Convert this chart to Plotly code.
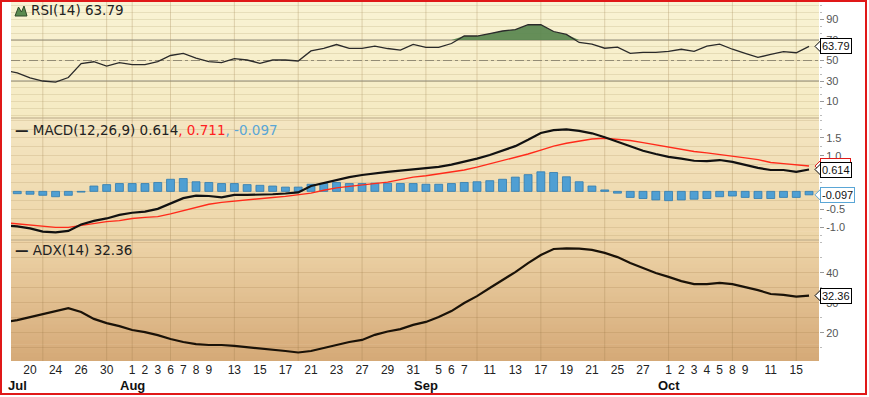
import plotly.graph_objects as go

# ---------------- data ----------------
dates = ["2012-07-18","2012-07-19","2012-07-20","2012-07-23","2012-07-24","2012-07-25","2012-07-26","2012-07-27","2012-07-30","2012-07-31",
         "2012-08-01","2012-08-02","2012-08-03","2012-08-06","2012-08-07","2012-08-08","2012-08-09","2012-08-10","2012-08-13","2012-08-14",
         "2012-08-15","2012-08-16","2012-08-17","2012-08-20","2012-08-21","2012-08-22","2012-08-23","2012-08-24","2012-08-27","2012-08-28",
         "2012-08-29","2012-08-30","2012-08-31","2012-09-04","2012-09-05","2012-09-06","2012-09-07","2012-09-10","2012-09-11","2012-09-12",
         "2012-09-13","2012-09-14","2012-09-17","2012-09-18","2012-09-19","2012-09-20","2012-09-21","2012-09-24","2012-09-25","2012-09-26",
         "2012-09-27","2012-09-28","2012-10-01","2012-10-02","2012-10-03","2012-10-04","2012-10-05","2012-10-08","2012-10-09","2012-10-10",
         "2012-10-11","2012-10-12","2012-10-15","2012-10-16"]

rsi = [40.5, 38.0, 33.0, 30.0, 29.0, 33.4, 47.0, 48.8, 44.6, 47.9,
       46.0, 46.0, 49.0, 54.9, 57.0, 52.4, 49.0, 48.0, 51.8, 50.5,
       47.3, 50.5, 50.5, 49.5, 59.3, 61.9, 65.6, 61.9, 61.9, 64.1,
       61.7, 60.2, 65.8, 62.9, 62.9, 66.6, 73.9, 73.9, 76.3, 78.8,
       80.2, 84.9, 84.9, 78.3, 75.4, 67.6, 66.0, 62.0, 63.0, 57.0,
       58.0, 58.0, 59.0, 61.0, 59.0, 64.0, 66.0, 61.0, 57.0, 53.0,
       56.0, 58.6, 57.6, 63.79]

macd = [-0.96, -0.98, -1.04, -1.13, -1.15, -1.11, -0.93, -0.83, -0.76, -0.66,
        -0.60, -0.57, -0.49, -0.33, -0.19, -0.12, -0.13, -0.17, -0.10, -0.10,
        -0.10, -0.08, -0.06, -0.03, 0.15, 0.24, 0.32, 0.40, 0.46, 0.51,
        0.55, 0.58, 0.62, 0.64, 0.69, 0.75, 0.83, 0.92, 1.02, 1.14,
        1.27, 1.45, 1.64, 1.72, 1.74, 1.70, 1.63, 1.52, 1.40, 1.27,
        1.14, 1.05, 0.97, 0.92, 0.86, 0.85, 0.88, 0.83, 0.74, 0.66,
        0.60, 0.60, 0.55, 0.614]

signal = [-0.88, -0.91, -0.95, -0.98, -1.01, -1.01, -0.95, -0.89, -0.85, -0.82,
          -0.76, -0.73, -0.71, -0.63, -0.54, -0.45, -0.36, -0.31, -0.27, -0.25,
          -0.21, -0.17, -0.14, -0.10, -0.05, 0.03, 0.10, 0.14, 0.18, 0.22,
          0.26, 0.33, 0.40, 0.44, 0.49, 0.54, 0.60, 0.68, 0.77, 0.85,
          0.94, 1.05, 1.16, 1.27, 1.35, 1.41, 1.47, 1.49, 1.47, 1.43,
          1.37, 1.31, 1.23, 1.18, 1.12, 1.08, 1.04, 0.99, 0.94, 0.89,
          0.81, 0.78, 0.74, 0.711]

hist = [-0.05, -0.065, -0.08, -0.11, -0.15, -0.11, -0.02, 0.15, 0.19, 0.22,
        0.22, 0.22, 0.25, 0.34, 0.36, 0.27, 0.25, 0.22, 0.22, 0.19,
        0.17, 0.15, 0.12, 0.12, 0.20, 0.22, 0.25, 0.22, 0.22, 0.23,
        0.23, 0.22, 0.22, 0.20, 0.20, 0.22, 0.25, 0.27, 0.30, 0.34,
        0.40, 0.47, 0.55, 0.53, 0.41, 0.27, 0.15, 0.04, -0.05, -0.17,
        -0.20, -0.24, -0.26, -0.24, -0.22, -0.20, -0.15, -0.13, -0.17, -0.20,
        -0.20, -0.17, -0.17, -0.097]

adx = [23.5, 24.2, 25.2, 26.2, 27.2, 28.2, 26.9, 24.6, 23.2, 22.2,
       20.9, 20.2, 19.2, 17.9, 16.9, 16.2, 15.9, 15.9, 15.6, 15.2,
       14.9, 14.4, 13.9, 13.4, 13.9, 14.9, 16.0, 16.9, 17.6, 19.3,
       20.4, 21.2, 22.6, 23.6, 25.2, 27.2, 29.9, 32.2, 34.9, 37.6,
       40.2, 43.2, 45.9, 47.9, 48.1, 48.0, 47.6, 46.6, 45.2, 43.2,
       41.6, 39.9, 38.6, 37.2, 36.2, 36.2, 36.6, 36.2, 35.2, 34.2,
       32.9, 32.6, 32.0, 32.36]

tick_dates = ["2012-07-20","2012-07-24","2012-07-26","2012-07-30",
              "2012-08-01","2012-08-02","2012-08-03","2012-08-06","2012-08-07","2012-08-08","2012-08-09",
              "2012-08-13","2012-08-15","2012-08-17","2012-08-21","2012-08-23","2012-08-27","2012-08-29","2012-08-31",
              "2012-09-05","2012-09-06","2012-09-07","2012-09-11","2012-09-13","2012-09-17","2012-09-19","2012-09-21",
              "2012-09-25","2012-09-27",
              "2012-10-01","2012-10-02","2012-10-03","2012-10-04","2012-10-05","2012-10-08","2012-10-09","2012-10-11","2012-10-15"]
tick_labels = ["20","24","26","30",
               "1","2","3","6","7","8","9",
               "13","15","17","21","23","27","29","31",
               "5","6","7","11","13","17","19","21",
               "25","27",
               "1","2","3","4","5","8","9","11","15"]

grid_dates = ["2012-07-23","2012-07-30","2012-08-01","2012-08-06","2012-08-13","2012-08-20","2012-08-27",
              "2012-09-04","2012-09-10","2012-09-17","2012-09-24","2012-10-01","2012-10-08","2012-10-15"]

month_labels = ["Jul", "Aug", "Sep", "Oct"]
month_dates = ["2012-07-19", "2012-08-01", "2012-09-04", "2012-10-01"]

rsi_ticks = [10, 30, 50, 70, 90]
rsi_ticktext = ["10", "30", "50", "70", "90"]
macd_ticks = [-1.0, -0.5, 0.0, 0.5, 1.0, 1.5]
macd_ticktext = ["-1.0", "-0.5", "0.0", "0.5", "1.0", "1.5"]
adx_ticks = [20, 30, 40]
adx_ticktext = ["20", "30", "40"]

OVERBOUGHT = 70
OVERSOLD = 30
MIDLINE = 50

# ---------------- layout geometry ----------------
W, H = 869, 397
ML, MR, MT, MB = 11, 50, 2, 36
PW = W - ML - MR
PH = H - MT - MB


def px(x):
    return (x - ML) / PW


def py(y):
    return (H - MB - y) / PH


d_adx = [0, py(240)]
d_macd = [py(240), py(118)]
d_rsi = [py(118), 1]

XR = [0.51, 63.78]

fig = go.Figure()

# RSI overbought fill
fig.add_trace(go.Scatter(x=dates, y=[OVERBOUGHT] * len(dates), mode="lines",
                         line=dict(width=0), hoverinfo="skip", showlegend=False,
                         xaxis="x", yaxis="y"))
fig.add_trace(go.Scatter(x=dates, y=[max(v, OVERBOUGHT) for v in rsi], mode="lines",
                         line=dict(width=0), fill="tonexty", fillcolor="rgba(88,134,78,0.92)",
                         hoverinfo="skip", showlegend=False, xaxis="x", yaxis="y"))
fig.add_trace(go.Scatter(x=dates, y=rsi, mode="lines", line=dict(color="#2a2a2a", width=1.3),
                         showlegend=False, xaxis="x", yaxis="y"))

# MACD
fig.add_trace(go.Bar(x=dates, y=hist, width=0.62,
                     marker=dict(color="#4f9fd3", line=dict(color="#2f7bb0", width=0.8)),
                     showlegend=False, xaxis="x2", yaxis="y2"))
fig.add_trace(go.Scatter(x=dates, y=signal, mode="lines", line=dict(color="#ff2a1a", width=1.4),
                         showlegend=False, xaxis="x2", yaxis="y2"))
fig.add_trace(go.Scatter(x=dates, y=macd, mode="lines", line=dict(color="#111111", width=2.2),
                         showlegend=False, xaxis="x2", yaxis="y2"))

# ADX
fig.add_trace(go.Scatter(x=dates, y=adx, mode="lines", line=dict(color="#1a1208", width=2.2),
                         showlegend=False, xaxis="x3", yaxis="y3"))

shapes = []


def lerp(c1, c2, t):
    return "rgb(%d,%d,%d)" % tuple(round(a + (b - a) * t) for a, b in zip(c1, c2))


def gradient(dom, top, bottom, n=30):
    a, b = dom
    for j in range(n):
        y0 = a + (b - a) * j / n
        y1 = a + (b - a) * (j + 1) / n + 0.002
        t = (j + 0.5) / n
        shapes.append(dict(type="rect", xref="paper", yref="paper", x0=0, x1=1, y0=y0, y1=min(y1, b),
                           fillcolor=lerp(bottom, top, t), line=dict(width=0), layer="below"))


gradient(d_rsi, (249, 243, 212), (245, 234, 194))
gradient(d_macd, (244, 230, 194), (237, 213, 168))
gradient(d_adx, (237, 212, 168), (213, 169, 119))

for gd in grid_dates:
    shapes.append(dict(type="line", xref="x3", yref="paper", x0=gd, x1=gd, y0=0, y1=1,
                       line=dict(color="rgba(150,118,70,0.28)", width=1), layer="below"))

# RSI reference lines
for lvl, dash in [(OVERBOUGHT, "solid"), (OVERSOLD, "solid"), (MIDLINE, "dashdot")]:
    shapes.append(dict(type="line", xref="paper", yref="y", x0=0, x1=1, y0=lvl, y1=lvl,
                       line=dict(color="#8c887a", width=1.2, dash=dash), layer="between"))

# panel separators
for yy in [118, 240]:
    shapes.append(dict(type="line", xref="paper", yref="paper", x0=0, x1=1, y0=py(yy), y1=py(yy),
                       line=dict(color="#b8a888", width=1)))

# red outer border
shapes.append(dict(type="rect", xref="paper", yref="paper", x0=px(1), x1=px(866), y0=py(394), y1=py(1),
                   line=dict(color="#e01818", width=2), fillcolor="rgba(0,0,0,0)"))

# RSI icon (small green mountain)
icon = "M {},{} L {},{} L {},{} L {},{} L {},{} Z".format(px(15), py(16), px(18.5), py(7), px(21.5), py(12),
                                                        px(24), py(6), px(27), py(16))
shapes.append(dict(type="path", xref="paper", yref="paper", path=icon,
                   fillcolor="#5a8a50", line=dict(color="#2e4a28", width=1)))

annotations = []

# value boxes on right with pointers
boxes = [
    ("63.79", 63.79, "y", 1.025, "#000000"),
    ("0.711", 0.711, "y2", 35.6, "#e01818"),
    ("0.614", 0.614, "y2", 35.6, "#000000"),
    ("-0.097", -0.097, "y2", 35.6, "#5aa6d6"),
    ("32.36", 32.36, "y3", 3.0, "#000000"),
]
for txt, val, yref, scale, col in boxes:
    dy = 6.0 / scale
    path = "M {},{} L {},{} L {},{} Z".format(px(815), val, px(821), val + dy, px(821), val - dy)
    shapes.append(dict(type="path", xref="paper", yref=yref, path=path, fillcolor="white",
                       line=dict(color=col, width=1)))
    annotations.append(dict(xref="paper", yref=yref, x=px(820), y=val, xanchor="left", yanchor="middle",
                            text=txt, showarrow=False, bgcolor="white", bordercolor=col, borderwidth=1,
                            borderpad=1, font=dict(family="Liberation Sans, Arial", size=11, color="#111")))

lab_font = dict(family="DejaVu Sans", size=13.5, color="#222")
annotations.append(dict(xref="paper", yref="paper", x=px(29), y=py(10), xanchor="left", yanchor="middle",
                        text="RSI(14) 63.79", showarrow=False, font=lab_font))
annotations.append(dict(xref="paper", yref="paper", x=px(13), y=py(130), xanchor="left", yanchor="middle",
                        text="<b>\u2014</b> MACD(12,26,9) 0.614<span style='color:#ff2020'>, 0.711</span>"
                             "<span style='color:#5aa6d6'>, -0.097</span>",
                        showarrow=False, font=lab_font))
annotations.append(dict(xref="paper", yref="paper", x=px(13), y=py(250), xanchor="left", yanchor="middle",
                        text="<b>\u2014</b> ADX(14) 32.36", showarrow=False, font=lab_font))

for m, d in zip(month_labels, month_dates):
    annotations.append(dict(xref="x3", yref="paper", x=d, y=0, yshift=-15, xanchor="center", yanchor="top",
                            text="<b>%s</b>" % m, showarrow=False,
                            font=dict(family="Liberation Sans, Arial", size=13, color="#111")))

axis_common = dict(type="category", categoryorder="array", categoryarray=dates, range=XR,
                   showgrid=False, zeroline=False, showline=False, fixedrange=True)

yfont = dict(family="Liberation Sans, Arial", size=11, color="#555")

fig.update_layout(
    width=W, height=H,
    margin=dict(l=ML, r=MR, t=MT, b=MB),
    paper_bgcolor="white", plot_bgcolor="rgba(0,0,0,0)",
    showlegend=False, bargap=0,
    shapes=shapes, annotations=annotations,
    xaxis=dict(axis_common, anchor="y", matches="x3", showticklabels=False),
    xaxis2=dict(axis_common, anchor="y2", matches="x3", showticklabels=False),
    xaxis3=dict(axis_common, anchor="y3", tickmode="array", tickvals=tick_dates, ticktext=tick_labels,
                ticks="", tickfont=dict(family="Liberation Sans, Arial", size=12, color="#222")),
    yaxis=dict(domain=d_rsi, anchor="x", side="right", range=[-6.1, 107.1], tickmode="array",
               tickvals=rsi_ticks, ticktext=rsi_ticktext, showgrid=False, zeroline=False,
               ticks="outside", ticklen=4, tickcolor="#999", tickfont=yfont,
               minor=dict(tick0=10, dtick=20 / 3, showgrid=True, gridcolor="rgba(170,150,100,0.22)",
                          ticks="outside", ticklen=2, tickcolor="#bbb")),
    yaxis2=dict(domain=d_macd, anchor="x2", side="right", range=[-1.365, 2.06], tickmode="array",
                tickvals=macd_ticks, ticktext=macd_ticktext, showgrid=False, zeroline=False,
                ticks="outside", ticklen=4, tickcolor="#999", tickfont=yfont,
                minor=dict(tick0=0, dtick=0.25, showgrid=True, gridcolor="rgba(170,140,90,0.22)",
                           ticks="outside", ticklen=2, tickcolor="#bbb")),
    yaxis3=dict(domain=d_adx, anchor="x3", side="right", range=[10.57, 50.9], tickmode="array",
                tickvals=adx_ticks, ticktext=adx_ticktext, showgrid=False, zeroline=False,
                ticks="outside", ticklen=4, tickcolor="#999", tickfont=yfont,
                minor=dict(tick0=0, dtick=5, showgrid=True, gridcolor="rgba(150,110,60,0.2)",
                           ticks="outside", ticklen=2, tickcolor="#bbb")),
)

fig.write_html("out.html", config={"displayModeBar": False, "staticPlot": True},
               post_script="document.body.style.margin='0';document.body.style.padding='0';")
